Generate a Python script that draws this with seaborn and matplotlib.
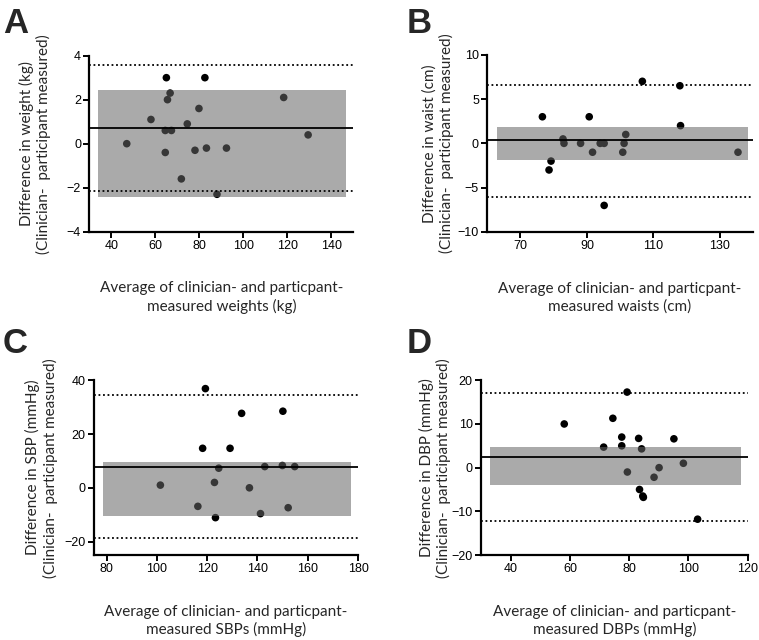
"""
Bland-Altman plots: clinician- vs participant-measured weight, waist, SBP, DBP
"""

import numpy as np
import matplotlib
matplotlib.use("Agg")
import matplotlib.pyplot as plt
import seaborn as sns

# ── Data ──────────────────────────────────────────────────────────────────────
weight_avg  = [47, 58, 65, 82.5, 65.5, 66.7, 64.5, 67.3, 64.5, 74.5, 79.8, 78, 83.2, 92.3, 71.8, 88, 118.3, 129.4]
weight_diff = [0, 1.1, 3.0, 3.0, 2.0, 2.3, 0.6, 0.6, -0.4, 0.9, 1.6, -0.3, -0.2, -0.2, -1.6, -2.3, 2.1, 0.4]

waist_avg   = [76.6, 90.7, 106.7, 118.0, 118.2, 78.6, 79.2, 82.8, 83.1, 88.1, 94.0, 95.2, 91.7, 100.8, 101.2, 101.7, 95.2, 135.5]
waist_diff  = [3, 3, 7, 6.5, 2, -3, -2, 0.5, 0, 0, 0, 0, -1, -1, 0, 1, -7, -1]

sbp_avg     = [101.4, 116.3, 119.3, 118.2, 122.9, 123.3, 124.6, 129.1, 133.7, 136.8, 141.2, 142.9, 149.9, 150.1, 152.2, 154.8]
sbp_diff    = [1.0, -6.9, 36.9, 14.7, 2.0, -11.1, 7.3, 14.7, 27.7, 0, -9.6, 7.9, 8.3, 28.5, -7.4, 7.9]

dbp_avg     = [58.1, 71.4, 74.5, 77.5, 77.5, 79.3, 79.4, 83.2, 84.2, 83.5, 84.6, 84.8, 88.4, 90.1, 95.1, 98.3, 103.1]
dbp_diff    = [10.0, 4.7, 11.3, 7.0, 5.0, 17.3, -1.0, 6.7, 4.3, -5.0, -6.5, -6.8, -2.2, 0.0, 6.6, 1.0, -11.8]

# mean difference, limits of agreement (lower, upper), shaded band (x0, x1, lo, hi)
weight_bias, weight_loa, weight_band = 0.7, (-2.17, 3.57), (34, 146.5, -2.42, 2.42)
waist_bias,  waist_loa,  waist_band  = 0.4, (-6.05, 6.62), (62.9, 138.4, -1.85, 1.9)
sbp_bias,    sbp_loa,    sbp_band    = 7.65, (-18.6, 34.7), (78.4, 177.3, -10.6, 9.75)
dbp_bias,    dbp_loa,    dbp_band    = 2.45, (-12.3, 17.0), (33.0, 117.7, -4.0, 4.7)

# ── Style ─────────────────────────────────────────────────────────────────────
sns.set_style("ticks")
plt.rcParams.update({
    "font.family":      ["Liberation Sans", "DejaVu Sans"],
    "axes.linewidth":   1.6,
    "xtick.major.width": 1.4,
    "ytick.major.width": 1.4,
    "xtick.major.size": 4,
    "ytick.major.size": 4,
    "xtick.labelsize":  9,
    "ytick.labelsize":  9,
    "xtick.color":      "black",
    "ytick.color":      "black",
    "axes.edgecolor":   "black",
})
LABEL_FONT = ["Lato", "DejaVu Sans"]
FIG_W = 759

fig = plt.figure(figsize=(7.59, 6.4), dpi=100)

panels = [
    # letter, rect, x, y, bias, loa, band, xlim, xticks, ylim, yticks, ylab, xlab, ylabel offset (px)
    ("A", [0.1177, 0.638, 0.348, 0.275], weight_avg, weight_diff, weight_bias, weight_loa, weight_band,
     (30, 150), np.arange(40, 141, 20), (-4, 4), [-4, -2, 0, 2, 4],
     "Difference in weight (kg)", "measured weights (kg)", 38),
    ("B", [0.642, 0.6375, 0.350, 0.277], waist_avg, waist_diff, waist_bias, waist_loa, waist_band,
     (60, 140), [70, 90, 110, 130], (-10, 10), [-10, -5, 0, 5, 10],
     "Difference in waist (cm)", "measured waists (cm)", 33),
    ("C", [0.1238, 0.1328, 0.348, 0.273], sbp_avg, sbp_diff, sbp_bias, sbp_loa, sbp_band,
     (75, 180), np.arange(80, 181, 20), (-25, 40), [-20, 0, 20, 40],
     "Difference in SBP (mmHg)", "measured SBPs (mmHg)", 36),
    ("D", [0.6337, 0.1328, 0.3514, 0.273], dbp_avg, dbp_diff, dbp_bias, dbp_loa, dbp_band,
     (30, 120), np.arange(40, 121, 20), (-20, 20), [-20, -10, 0, 10, 20],
     "Difference in DBP (mmHg)", "measured DBPs (mmHg)", 30),
]

for (letter, rect, x, y, bias, loa, band, xlim, xticks, ylim, yticks, ylab, xlab, yoff) in panels:
    ax = fig.add_axes(rect)
    sns.scatterplot(x=x, y=y, ax=ax, color="black", s=30, edgecolor="none", zorder=2, clip_on=False)
    ax.fill_between([band[0], band[1]], band[2], band[3], color="#656565", alpha=0.55,
                    linewidth=0, zorder=3)
    ax.axhline(bias, color="black", lw=1.3, zorder=4)
    for lim in loa:
        ax.axhline(lim, color="black", lw=1.3, ls=(0, (1, 1.5)), zorder=4)
    ax.set_xlim(*xlim)
    ax.set_ylim(*ylim)
    ax.set_xticks(xticks)
    ax.set_yticks(yticks)
    sns.despine(ax=ax)
    ax.set_ylabel(f"{ylab}\n(Clinician-  participant measured)", fontsize=11,
                  family=LABEL_FONT, linespacing=1.2)
    ax.yaxis.set_label_coords(-yoff / (rect[2] * FIG_W), 0.5)
    ax.set_xlabel("Average of clinician- and particpant-\n" + xlab, fontsize=11,
                  family=LABEL_FONT, labelpad=21, linespacing=1.3)
    ax.tick_params(pad=2)
    fx = 0.004 if letter in "AC" else 0.536
    fy = 0.948 if letter in "AB" else 0.448
    fig.text(fx, fy, letter, fontsize=25, fontweight="bold", va="baseline", ha="left")

fig.savefig("out.png", dpi=100)
plt.close()
